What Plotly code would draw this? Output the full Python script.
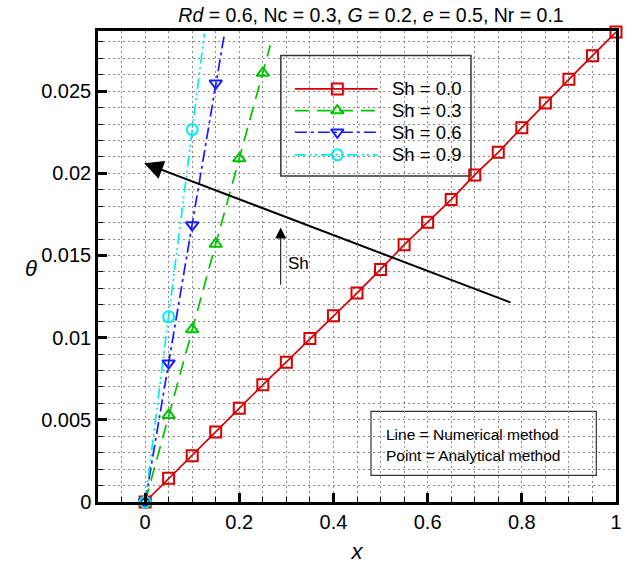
import plotly.graph_objects as go

# ---------------- data ----------------
sh_labels = ["Sh = 0.0", "Sh = 0.3", "Sh = 0.6", "Sh = 0.9"]

# numerical solution (lines)
x_line_00 = [0, 0.05, 0.1, 0.15, 0.2, 0.25, 0.3, 0.35, 0.4, 0.45, 0.5,
             0.55, 0.6, 0.65, 0.7, 0.75, 0.8, 0.85, 0.9, 0.95, 1.0]
t_line_00 = [0, 0.00144, 0.00282, 0.00426, 0.0057, 0.00713, 0.00851, 0.00995,
             0.01133, 0.01271, 0.01415, 0.01565, 0.01703, 0.0184, 0.0199,
             0.02128, 0.02278, 0.02428, 0.02572, 0.02716, 0.0286]
x_line_03 = [0, 0.05, 0.1, 0.15, 0.2, 0.25, 0.266]
t_line_03 = [0, 0.00528, 0.0105, 0.0157, 0.0209, 0.0261, 0.0278]
x_line_06 = [0, 0.05, 0.1, 0.15, 0.168]
t_line_06 = [0, 0.00845, 0.01685, 0.02548, 0.0284]
x_line_09 = [0, 0.05, 0.1, 0.126]
t_line_09 = [0, 0.01127, 0.02266, 0.0285]

# analytical solution (points)
x_pt_00 = x_line_00
t_pt_00 = t_line_00
x_pt_03 = [0, 0.05, 0.1, 0.15, 0.2, 0.25]
t_pt_03 = [0, 0.00528, 0.0105, 0.0157, 0.0209, 0.0261]
x_pt_06 = [0, 0.05, 0.1, 0.15]
t_pt_06 = [0, 0.00845, 0.01685, 0.02548]
x_pt_09 = [0, 0.05, 0.1]
t_pt_09 = [0, 0.01127, 0.02266]

# ---------------- styles ----------------
colors = ["#d80000", "#00c400", "#1a1aff", "#00eeee"]
dashes = ["solid", "14px,8px", "12px,4px,3px,4px", "11px,4px,2px,3px,2px,4px"]
symbols = ["square-open", "triangle-up-open", "triangle-down-open", "circle-open"]
FONT = "Liberation Sans, Arial, sans-serif"

lines = [(x_line_00, t_line_00), (x_line_03, t_line_03),
         (x_line_06, t_line_06), (x_line_09, t_line_09)]
points = [(x_pt_00, t_pt_00), (x_pt_03, t_pt_03),
          (x_pt_06, t_pt_06), (x_pt_09, t_pt_09)]

fig = go.Figure()
for i in range(4):
    fig.add_trace(go.Scatter(x=lines[i][0], y=lines[i][1], mode="lines",
                             line=dict(color=colors[i], width=1.7, dash=dashes[i]),
                             showlegend=False, hoverinfo="skip"))
for i in range(4):
    fig.add_trace(go.Scatter(x=points[i][0], y=points[i][1], mode="markers",
                             marker=dict(symbol=symbols[i], size=11, color=colors[i],
                                         line=dict(width=2, color=colors[i])),
                             cliponaxis=False, showlegend=False, name=sh_labels[i]))

# ---------------- manual legend (on an overlay 0..1 axis) ----------------
leg_x0, leg_x1, leg_xm = 0.380, 0.540, 0.462
leg_rows = [0.877, 0.831, 0.785, 0.737]
for i in range(4):
    fig.add_trace(go.Scatter(x=[leg_x0, leg_x1], y=[leg_rows[i], leg_rows[i]],
                             xaxis="x2", yaxis="y2", mode="lines",
                             line=dict(color=colors[i], width=1.7, dash=dashes[i]),
                             showlegend=False, hoverinfo="skip"))
    fig.add_trace(go.Scatter(x=[leg_xm], y=[leg_rows[i]], xaxis="x2", yaxis="y2",
                             mode="markers",
                             marker=dict(symbol=symbols[i], size=11, color=colors[i],
                                         line=dict(width=2, color=colors[i])),
                             showlegend=False, hoverinfo="skip"))
    fig.add_annotation(x=0.563, y=leg_rows[i], xref="paper", yref="paper",
                       text=sh_labels[i], showarrow=False, xanchor="left",
                       yanchor="middle", font=dict(size=18.5, color="black", family=FONT))

fig.add_shape(type="rect", xref="paper", yref="paper", x0=0.353, x1=0.720,
              y0=0.692, y1=0.948, line=dict(color="#333", width=1.5),
              fillcolor="white", layer="between")

# method box
fig.add_shape(type="rect", xref="paper", yref="paper", x0=0.527, x1=0.962,
              y0=0.0565, y1=0.1925, line=dict(color="#333", width=1.2),
              fillcolor="white", layer="between")
fig.add_annotation(x=0.553, y=0.144, xref="paper", yref="paper",
                   text="Line = Numerical method", showarrow=False, xanchor="left",
                   yanchor="middle", font=dict(size=15.5, color="black", family=FONT))
fig.add_annotation(x=0.553, y=0.098, xref="paper", yref="paper",
                   text="Point = Analytical method", showarrow=False, xanchor="left",
                   yanchor="middle", font=dict(size=15.5, color="black", family=FONT))

# arrows
fig.add_annotation(x=-0.002, y=0.02062, ax=0.779, ay=0.01211, xref="x", yref="y",
                   axref="x", ayref="y", text="", showarrow=True, arrowhead=2,
                   arrowsize=1.9, arrowwidth=2, arrowcolor="black")
fig.add_annotation(x=0.288, y=0.0167, ax=0.288, ay=0.01313, xref="x", yref="y",
                   axref="x", ayref="y", text="", showarrow=True, arrowhead=2,
                   arrowsize=2.2, arrowwidth=1, arrowcolor="black")
fig.add_annotation(x=0.300, y=0.0145, xref="x", yref="y", text="Sh", showarrow=False,
                   xanchor="left", yanchor="middle",
                   font=dict(size=17, color="black", family=FONT))

# theta label (upright)
fig.add_annotation(x=(30 - 98) / 524, y=(509 - 272) / 478, xref="paper", yref="paper",
                   text="<i>θ</i>", showarrow=False, xanchor="center",
                   font=dict(size=22, color="black", family=FONT))

grid = dict(showgrid=True, gridcolor="#8a8a8a", gridwidth=1, griddash="2px,3px")
fig.update_layout(
    width=632, height=570,
    margin=dict(l=98, r=10, t=31, b=61),
    paper_bgcolor="white", plot_bgcolor="white",
    font=dict(family=FONT, size=20, color="black"),
    title=dict(text="<i>Rd</i> = 0.6, Nc = 0.3, <i>G</i> = 0.2, <i>e</i> = 0.5, Nr = 0.1",
               x=371 / 632, xanchor="center", y=1 - 15 / 570, yanchor="middle",
               font=dict(size=19.5, family=FONT, color="black")),
    xaxis=dict(range=[-0.1, 1.0], tick0=0, dtick=0.2, ticks="inside", ticklen=9,
               tickwidth=2.5, tickcolor="black", showline=True, linecolor="black",
               linewidth=2.5, mirror=True, zeroline=False,
               title=dict(text="<i>x</i>", font=dict(size=22), standoff=12),
               minor=dict(dtick=0.05, tick0=0, ticks="inside", ticklen=5, tickwidth=1,
                          tickcolor="black", showgrid=True, gridcolor="#8a8a8a",
                          griddash="2px,3px"),
               **grid),
    yaxis=dict(range=[0, 0.02866], tick0=0, dtick=0.005, ticks="inside", ticklen=9,
               tickwidth=2.5, tickcolor="black", showline=True, linecolor="black",
               linewidth=2.5, mirror=True, zeroline=False,
               minor=dict(dtick=0.001, tick0=0, ticks="inside", ticklen=5, tickwidth=1,
                          tickcolor="black", showgrid=True, gridcolor="#8a8a8a",
                          griddash="2px,3px"),
               **grid),
    xaxis2=dict(overlaying="x", range=[0, 1], visible=False, fixedrange=True),
    yaxis2=dict(overlaying="y", range=[0, 1], visible=False, fixedrange=True),
    showlegend=False,
)

fig.write_html("out.html", config={"displayModeBar": False},
               post_script="document.body.style.margin='0';document.body.style.overflow='hidden';")
